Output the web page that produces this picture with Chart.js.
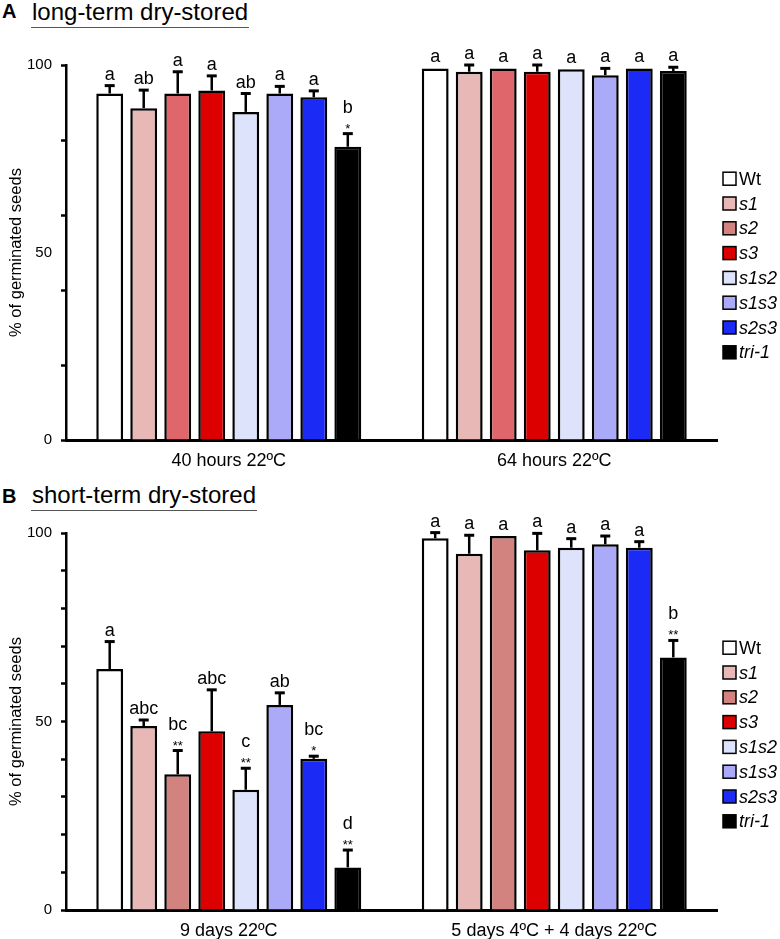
<!DOCTYPE html>
<html>
<head>
<meta charset="utf-8">
<script src="https://cdn.jsdelivr.net/npm/chart.js@4.4.1/dist/chart.umd.min.js"></script>
<style>
  body { margin: 0; background: #fff; overflow: hidden; }
  #page { position: relative; width: 780px; height: 939px; font-family: "Liberation Sans", Arial, sans-serif; }
  canvas { position: absolute; left: 0; }
  .panel { position: absolute; left: 2px; font-size: 20px; font-weight: bold; line-height: 20px; }
  .title { position: absolute; left: 31px; font-size: 24px; line-height: 24px; padding: 0 1px 3px 1px; border-bottom: 1.5px solid #555; }
</style>
</head>
<body>
<div id="page">
  <div class="panel" style="top:1px">A</div>
  <div class="title" style="top:0px">long-term dry-stored</div>
  <canvas id="chartA" width="780" height="470" style="top:0"></canvas>
  <div class="panel" style="top:486px">B</div>
  <div class="title" style="top:483px">short-term dry-stored</div>
  <canvas id="chartB" width="780" height="470" style="top:470px"></canvas>
</div>
<script>
// genotypes and colours
const genotypes = ['Wt', 's1', 's2', 's3', 's1s2', 's1s3', 's2s3', 'tri-1'];
const colorsA = ['#ffffff', '#e8b8b7', '#df676c', '#dd0000', '#dde3fb', '#aaaaf8', '#1b2bf5', '#000000'];
const colorsB = ['#ffffff', '#e8b8b7', '#d3837f', '#dd0000', '#dde3fb', '#aaaaf8', '#1b2bf5', '#000000'];
const legendColors = ['#ffffff', '#e8b8b7', '#d3837f', '#dd0000', '#dde3fb', '#aaaaf8', '#1b2bf5', '#000000'];

// panel A: long-term dry-stored
const groupsA = ['40 hours 22ºC', '64 hours 22ºC'];
const meansA40 = [92.4, 88.5, 92.4, 93.2, 87.5, 92.4, 91.4, 78.2];
const errA40 = [2.1, 4.8, 5.8, 3.9, 4.9, 1.9, 1.7, 3.5];
const lettersA40 = ['a', 'ab', 'a', 'a', 'ab', 'a', 'a', 'b'];
const starsA40 = ['', '', '', '', '', '', '', '*'];
const meansA64 = [99.1, 98.2, 99.1, 98.2, 98.9, 97.3, 99.1, 98.4];
const errA64 = [0, 1.8, 0, 1.8, 0, 1.8, 0, 1.0];
const lettersA64 = ['a', 'a', 'a', 'a', 'a', 'a', 'a', 'a'];
const starsA64 = ['', '', '', '', '', '', '', ''];

// panel B: short-term dry-stored
const groupsB = ['9 days 22ºC', '5 days 4ºC + 4 days 22ºC'];
const meansB9 = [63.9, 48.8, 36.0, 47.4, 31.9, 54.4, 40.1, 11.3];
const errB9 = [7.3, 1.6, 6.3, 11.0, 5.7, 3.2, 0.7, 4.6];
const lettersB9 = ['a', 'abc', 'bc', 'abc', 'c', 'ab', 'bc', 'd'];
const starsB9 = ['', '', '**', '', '**', '', '*', '**'];
const meansB5 = [98.6, 94.5, 99.2, 95.4, 96.1, 97.0, 96.1, 67.0];
const errB5 = [1.5, 4.9, 0, 4.5, 2.4, 2.2, 1.6, 4.5];
const lettersB5 = ['a', 'a', 'a', 'a', 'a', 'a', 'a', 'b'];
const starsB5 = ['', '', '', '', '', '', '', '**'];

const FONT = '"Liberation Sans", Arial, sans-serif';

// error bars, letters, asterisks and the legend
const annotate = {
    id: 'annotate',
    afterDatasetsDraw(chart, args, opts) {
        const ctx = chart.ctx;
        const y = chart.scales.y;
        chart.data.datasets.forEach((ds, i) => {
            const meta = chart.getDatasetMeta(i);
            meta.data.forEach((bar, j) => {
                const err = opts.errs[j][i];
                const top = y.getPixelForValue(ds.data[j] + err);
                ctx.save();
                ctx.strokeStyle = '#000';
                ctx.lineWidth = 2.5;
                if (err > 0) {
                    ctx.beginPath();
                    ctx.moveTo(bar.x, bar.y);
                    ctx.lineTo(bar.x, top);
                    ctx.stroke();
                    ctx.lineWidth = 3;
                    ctx.beginPath();
                    ctx.moveTo(bar.x - 5, top);
                    ctx.lineTo(bar.x + 5, top);
                    ctx.stroke();
                }
                ctx.fillStyle = '#000';
                ctx.textAlign = 'center';
                ctx.textBaseline = 'alphabetic';
                let base = top - 6;
                const star = opts.stars[j][i];
                if (star) {
                    ctx.font = '13px ' + FONT;
                    ctx.fillText(star, bar.x, top - 1);
                    base = top - 21;
                }
                ctx.font = '18px ' + FONT;
                ctx.fillText(opts.letters[j][i], bar.x, base);
                ctx.restore();
            });
        });
    },
    afterDraw(chart) {
        const ctx = chart.ctx;
        const area = chart.chartArea;
        const x0 = area.right + 6;
        const cy = (area.top + area.bottom) / 2 + 13;
        ctx.save();
        genotypes.forEach((g, k) => {
            const yy = cy + (k - 3.5) * 24.8;
            ctx.fillStyle = legendColors[k];
            ctx.fillRect(x0, yy - 6.5, 13, 13);
            ctx.strokeStyle = '#000';
            ctx.lineWidth = 1.5;
            ctx.strokeRect(x0, yy - 6.5, 13, 13);
            ctx.fillStyle = '#000';
            ctx.textBaseline = 'middle';
            ctx.textAlign = 'left';
            ctx.font = (k === 0 ? '' : 'italic ') + '18px ' + FONT;
            ctx.fillText(g, x0 + 16, yy + 1);
        });
        ctx.restore();
    }
};

function makeChart(id, groups, means, errs, letters, stars, colors, tickValues, stepSize, topPad) {
    const datasets = genotypes.map((g, i) => ({
        label: g,
        data: means.map(m => m[i]),
        backgroundColor: colors[i],
        borderColor: '#000',
        borderWidth: 2.5,
        categoryPercentage: 0.836,
        barPercentage: 0.79,
        clip: false
    }));
    return new Chart(document.getElementById(id), {
        type: 'bar',
        data: { labels: groups, datasets: datasets },
        plugins: [annotate],
        options: {
            responsive: false,
            animation: false,
            devicePixelRatio: 1,
            layout: { padding: { top: topPad, right: 63, left: 0, bottom: 0 } },
            plugins: {
                legend: { display: false },
                tooltip: { enabled: false },
                annotate: { errs: errs, letters: letters, stars: stars }
            },
            scales: {
                x: {
                    grid: { drawOnChartArea: false, drawTicks: false },
                    border: { display: true, color: '#000', width: 3 },
                    ticks: { color: '#000', padding: 10, font: { family: FONT, size: 18 } },
                    afterFit: s => { s.height = 30; }
                },
                y: {
                    min: 0,
                    max: 100,
                    afterBuildTicks: s => {
                        if (tickValues) s.ticks = tickValues.map(v => ({ value: v }));
                    },
                    grid: {
                        drawOnChartArea: false,
                        drawTicks: true,
                        tickLength: 5,
                        tickWidth: 2.5,
                        tickColor: c => (c.tick && tickValues && c.tick.value === 50) ? 'rgba(0,0,0,0)' : '#000'
                    },
                    border: { display: true, color: '#000', width: 2.5 },
                    ticks: {
                        stepSize: stepSize,
                        autoSkip: false,
                        color: '#000',
                        padding: 9,
                        font: { family: FONT, size: 15 },
                        callback: v => ([0, 50, 100].includes(v) ? v : '')
                    },
                    title: {
                        display: true,
                        text: '% of germinated seeds',
                        color: '#000',
                        padding: { top: 7, bottom: 0 },
                        font: { family: FONT, size: 16.5 }
                    },
                    afterFit: s => { s.width = 66; }
                }
            }
        }
    });
}

makeChart('chartA', groupsA, [meansA40, meansA64], [errA40, errA64],
    [lettersA40, lettersA64], [starsA40, starsA64], colorsA, [0, 20, 40, 50, 60, 80, 100], 20, 65);
makeChart('chartB', groupsB, [meansB9, meansB5], [errB9, errB5],
    [lettersB9, lettersB5], [starsB9, starsB5], colorsB, null, 10, 63);
</script>
</body>
</html>
